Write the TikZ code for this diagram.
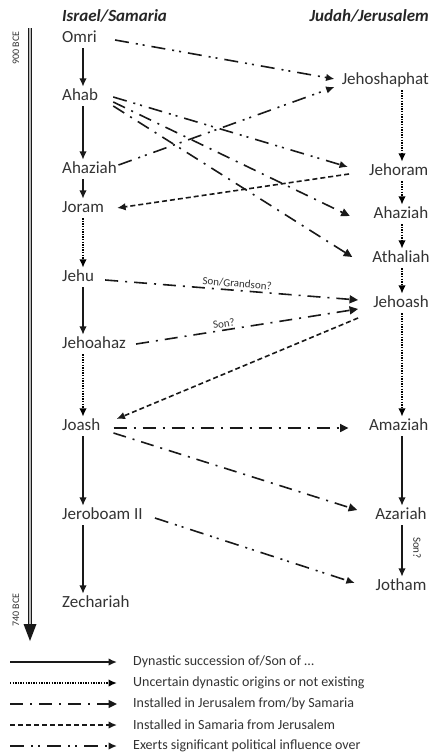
\documentclass[tikz,border=0pt]{standalone}
\usepackage{fontspec}
\setmainfont{Carlito}
\usetikzlibrary{arrows.meta,calc}
\begin{document}
\begin{tikzpicture}[x=1pt,y=-1pt,
  nm/.style={font=\fontsize{17}{17}\selectfont, text=black!80, inner xsep=0pt, inner ysep=3pt, text height=10pt, text depth=3pt},
  lnm/.style={nm, anchor=base west},
  rnm/.style={nm, anchor=base},
  hdr/.style={font=\fontsize{17}{17}\selectfont\bfseries\itshape, text=black!85, inner sep=0pt},
  lbl/.style={font=\fontsize{11}{11}\selectfont, text=black!80, inner sep=1pt},
  leg/.style={font=\fontsize{14}{14}\selectfont, text=black!80, inner sep=0pt, anchor=west},
  conn/.style={line width=1.6pt, draw=black!90},
  tipL/.style={-{Latex[length=8.5pt,width=7.5pt]}},
  succ/.style={conn, tipL},
  uncert/.style={conn, draw=black, line width=1.9pt, dash pattern=on 1.4pt off 1.2pt, tipL},
  instJ/.style={conn, dash pattern=on 13pt off 7pt on 2pt off 7pt, -{Triangle[length=8.5pt,width=8pt]}},
  instS/.style={conn, dash pattern=on 5pt off 3pt, tipL},
  infl/.style={conn, dash pattern=on 14pt off 7pt on 2pt off 5pt on 2pt off 7pt, tipL},
]
\useasboundingbox (0,0) rectangle (429,755);
\fill[white] (0,0) rectangle (429,755);

% headers
\node[hdr, anchor=west] (hIsr) at (62,16) {Israel/Samaria};
\node[hdr, anchor=east] (hJud) at (429,16) {Judah/Jerusalem};

% timeline
\coordinate (tlTop) at (30,28);
\coordinate (tlBot) at (30,626);
\draw[line width=1.1pt, double=gray!55, double distance=2.2pt, black!90] (tlTop) -- (tlBot);
\fill[black!90] (23.5,624) -- (36.5,624) -- (30,641) -- cycle;
\node[font=\fontsize{10}{10}\selectfont, text=black!80, rotate=90, inner sep=0pt] (t900) at (16,48) {900 BCE};
\node[font=\fontsize{10}{10}\selectfont, text=black!80, rotate=90, inner sep=0pt] (t740) at (16,610) {740 BCE};

% columns
\coordinate (colL) at (83,0);
\coordinate (colR) at (402,0);

% Israel
\node[lnm] (omri) at (62,42) {Omri};
\node[lnm] (ahab) at (62,100) {Ahab};
\node[lnm] (ahazL) at (62,173) {Ahaziah};
\node[lnm] (joram) at (62,212) {Joram};
\node[lnm] (jehu) at (62,281) {Jehu};
\node[lnm] (jehoahaz) at (62,348) {Jehoahaz};
\node[lnm] (joash) at (62,430) {Joash};
\node[lnm] (jerob) at (62,519) {Jeroboam II};
\node[lnm] (zech) at (62,607) {Zechariah};

% Judah
\node[nm, anchor=base east] (jehosh) at (429,84) {Jehoshaphat};
\node[nm, anchor=base east] (jehoram) at (428.5,175) {Jehoram};
\node[rnm] (ahazR) at (401,218) {Ahaziah};
\node[rnm] (athal) at (401,262) {Athaliah};
\node[rnm] (jehoash) at (401,307) {Jehoash};
\node[nm, anchor=base east] (amaz) at (428.5,430) {Amaziah};
\node[rnm] (azar) at (401,519) {Azariah};
\node[rnm] (jotham) at (401,590) {Jotham};

% Israel succession
\draw[succ] (colL |- omri.south) -- (colL |- ahab.north);
\draw[succ] (colL |- ahab.south) -- (colL |- ahazL.north);
\draw[succ] (colL |- ahazL.south) -- (colL |- joram.north);
\draw[uncert] (colL |- joram.south) -- (colL |- jehu.north);
\draw[succ] (colL |- jehu.south) -- (colL |- jehoahaz.north);
\draw[uncert] (colL |- jehoahaz.south) -- (colL |- joash.north);
\draw[succ] (colL |- joash.south) -- (colL |- jerob.north);
\draw[succ] (colL |- jerob.south) -- (colL |- zech.north);

% Judah succession
\draw[uncert] (colR |- jehosh.south) -- (colR |- jehoram.north);
\draw[uncert] (colR |- jehoram.south) -- (colR |- ahazR.north);
\draw[uncert] (colR |- ahazR.south) -- (colR |- athal.north);
\draw[uncert] (colR |- athal.south) -- (colR |- jehoash.north);
\draw[uncert] (colR |- jehoash.south) -- (colR |- amaz.north);
\draw[succ] (colR |- amaz.south) -- (colR |- azar.north);
\draw[succ] (colR |- azar.south) -- (colR |- jotham.north);
\node[lbl, rotate=-90] (sonR) at ($(colR |- azar.south)!0.5!(colR |- jotham.north)+(15,-3)$) {Son?};

% cross connections
\draw[infl] ($(omri.east)+(18,1.5)$) -- ($(jehosh.west)+(-7,-1.5)$);
\draw[infl] ($(ahazL.east)+(1.5,-4.5)$) -- ($(jehosh.west)+(-7,6.5)$);
\draw[infl] ($(ahab.east)+(15,0.5)$) -- ($(jehoram.west)+(-21,-4.5)$);
\draw[instJ] ($(ahab.east)+(15,5.5)$) -- ($(ahazR.west)+(-23.7,1.5)$);
\draw[instJ] ($(ahab.east)+(15,9.5)$) -- ($(athal.west)+(-20,-1.5)$);
\draw[instS] ($(jehoram.west)+(-20,2.5)$) -- ($(joram.east)+(13,-0.5)$);
\draw[instJ] ($(jehu.east)+(11,2.5)$) -- node[lbl, pos=0.52, above=1pt, sloped] (lblSG) {Son/Grandson?} ($(jehoash.west)+(-15,-3.5)$);
\draw[instJ] ($(jehoahaz.east)+(10,-0.5)$) -- node[lbl, pos=0.4, above=1pt, sloped] (lblS) {Son?} ($(jehoash.west)+(-15,5.5)$);
\draw[instS] ($(jehoash.west)+(-15,14.5)$) -- ($(joash.east)+(16,-7.5)$);
\draw[instJ] ($(joash.east)+(13,1.5)$) -- ($(amaz.west)+(-20.3,1.5)$);
\draw[instJ] ($(joash.east)+(13,6.5)$) -- ($(azar.west)+(-18,-5.5)$);
\draw[infl] ($(jerob.east)+(12,2.5)$) -- ($(jotham.west)+(-20.6,-3.5)$);

% legend
\node[leg] (lg1) at (133,662) {Dynastic succession of/Son of …};
\node[leg] (lg2) at (133,683) {Uncertain dynastic origins or not existing};
\node[leg] (lg3) at (133,704) {Installed in Jerusalem from/by Samaria};
\node[leg] (lg4) at (133,725) {Installed in Samaria from Jerusalem};
\node[leg] (lg5) at (133,746) {Exerts significant political influence over};
\coordinate (lgs1) at (10,662);
\coordinate (lgs2) at (10,683);
\coordinate (lgs3) at (10,704);
\coordinate (lgs4) at (10,725);
\coordinate (lgs5) at (10,746);
\draw[succ] (lgs1) -- ($(lg1.west)+(-16,0)$);
\draw[uncert] (lgs2) -- ($(lg2.west)+(-16,0)$);
\draw[instJ] (lgs3) -- ($(lg3.west)+(-16,0)$);
\draw[instS] (lgs4) -- ($(lg4.west)+(-16,0)$);
\draw[infl] (lgs5) -- ($(lg5.west)+(-16,0)$);
\end{tikzpicture}
\end{document}
